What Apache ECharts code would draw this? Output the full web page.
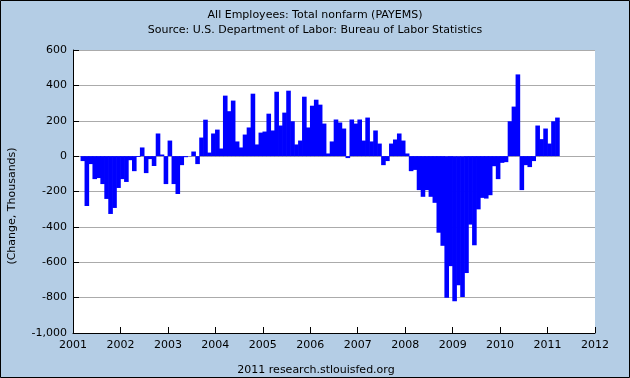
<!DOCTYPE html>
<html>
<head>
<meta charset="utf-8">
<script src="https://cdn.jsdelivr.net/npm/echarts@6/dist/echarts.min.js"></script>
<style>
  html, body { margin: 0; padding: 0; }
  #chart { width: 630px; height: 378px; }
</style>
</head>
<body>
<div id="chart"></div>
<script>
// monthly change in nonfarm payrolls (thousands), series starts Mar 2001
var startYear = 2001
var startMonth = 3
var y2001 = [-28, -282, -45, -130, -124, -158, -242, -327, -293, -180]
var y2002 = [-130, -146, -23, -85, -5, 49, -96, -17, -56, 128, 9, -158]
var y2003 = [88, -158, -214, -51, -6, -1, 26, -45, 105, 206, 20, 128]
var y2004 = [150, 43, 342, 254, 314, 83, 49, 122, 162, 353, 66, 133]
var y2005 = [139, 240, 145, 364, 173, 246, 370, 197, 66, 88, 336, 162]
var y2006 = [285, 319, 291, 184, 15, 83, 207, 190, 156, -11, 207, 184]
var y2007 = [207, 88, 218, 83, 145, 71, -51, -28, 71, 94, 128, 88]
var y2008 = [15, -85, -78, -192, -230, -192, -230, -264, -433, -507, -801, -622]
var y2009 = [-820, -730, -796, -661, -387, -504, -301, -236, -240, -221, -57, -130]
var y2010 = [-38, -34, 197, 280, 462, -192, -51, -62, -28, 173, 96, 156]
var y2011 = [71, 197, 218]

var yearTicks = [2001, 2012]
var yRange = [-1000, 600]

var changes = [].concat(y2001, y2002, y2003, y2004, y2005, y2006, y2007, y2008, y2009, y2010, y2011)

// each bar sits in the middle of its month
var barData = changes.map(function (v, i) {
  var m = (startMonth - 1) + i
  return [startYear + (m + 0.5) / 12, v]
})

var chart = echarts.init(document.getElementById('chart'), null, { renderer: 'canvas' })
var font = 'DejaVu Sans'

chart.setOption({
  animation: false,
  backgroundColor: '#B4CDE5',
  title: {
    text: 'All Employees: Total nonfarm (PAYEMS)',
    subtext: 'Source: U.S. Department of Labor: Bureau of Labor Statistics',
    left: 'center',
    top: 4,
    itemGap: 2,
    textStyle: { fontFamily: font, fontSize: 11, fontWeight: 'normal', color: '#000', lineHeight: 13 },
    subtextStyle: { fontFamily: font, fontSize: 11, color: '#000', lineHeight: 13 }
  },
  grid: {
    left: 73,
    right: 35,
    top: 50,
    bottom: 45,
    show: true,
    backgroundColor: '#fff',
    borderWidth: 0
  },
  xAxis: {
    type: 'value',
    min: yearTicks[0],
    max: yearTicks[1],
    interval: 1,
    axisLine: { onZero: false, lineStyle: { color: '#000', width: 1 } },
    axisTick: { inside: true, length: 6, lineStyle: { color: '#000' } },
    splitLine: { show: false },
    axisLabel: {
      fontFamily: font,
      fontSize: 11,
      color: '#000',
      margin: 7,
      formatter: function (v) { return String(v) }
    }
  },
  yAxis: {
    type: 'value',
    min: yRange[0],
    max: yRange[1],
    interval: 200,
    axisLine: { show: true, onZero: false, lineStyle: { color: '#000', width: 1 } },
    axisTick: { show: true, inside: true, length: 6, lineStyle: { color: '#000' } },
    splitLine: { show: true, lineStyle: { color: '#ABABAB', width: 1 } },
    axisLabel: { fontFamily: font, fontSize: 11, color: '#000', margin: 6 }
  },
  series: [
    {
      type: 'bar',
      data: barData,
      barWidth: 4.6,
      itemStyle: { color: '#0000FF' }
    }
  ],
  graphic: [
    {
      type: 'text',
      x: 12,
      y: 206,
      rotation: Math.PI / 2,
      style: {
        text: '(Change, Thousands)',
        font: '11px "DejaVu Sans"',
        fill: '#000',
        textAlign: 'center',
        textVerticalAlign: 'middle'
      }
    },
    {
      type: 'text',
      x: 316,
      y: 370,
      style: {
        text: '2011 research.stlouisfed.org',
        font: '11px "DejaVu Sans"',
        fill: '#000',
        textAlign: 'center',
        textVerticalAlign: 'middle'
      }
    },
    {
      type: 'rect',
      shape: { x: 0.5, y: 0.5, width: 629, height: 377 },
      style: { fill: null, stroke: '#000', lineWidth: 1 },
      silent: true
    }
  ]
})
</script>
</body>
</html>
